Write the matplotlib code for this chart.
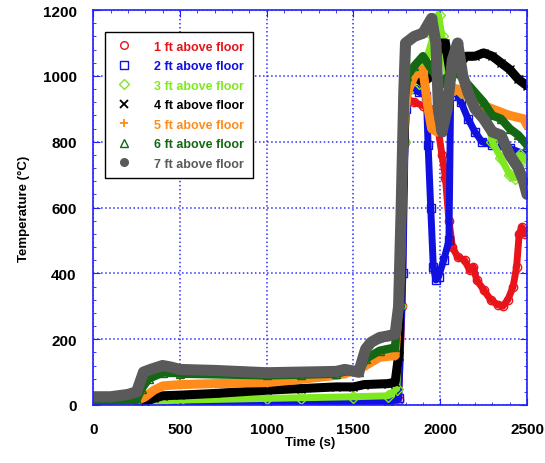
import matplotlib
matplotlib.use('Agg')
import matplotlib.pyplot as plt
from matplotlib.lines import Line2D
from matplotlib.ticker import MultipleLocator

plt.rcParams['font.family'] = ['Liberation Sans', 'DejaVu Sans']

# valeurs (temps en s, température en °C)
t1 = [0, 1000, 1700, 1760, 1780, 1795, 1810, 1850, 1900, 1940, 1970, 1990, 2010, 2030, 2050,
      2070, 2100, 2140, 2170, 2190, 2210, 2250, 2290, 2330, 2360, 2390, 2420, 2440, 2455,
      2470, 2490, 2500]
v1 = [3, 4, 5, 15, 300, 800, 930, 920, 910, 900, 870, 830, 760, 690, 560,
      480, 450, 440, 410, 420, 380, 350, 320, 305, 300, 320, 360, 420, 520,
      540, 520, 530]

t2 = [0, 1000, 1700, 1760, 1785, 1800, 1820, 1850, 1880, 1920, 1930, 1945, 1960, 1975,
      1990, 2020, 2050, 2060, 2080, 2120, 2160, 2200, 2240, 2300, 2400, 2500]
v2 = [5, 6, 8, 20, 400, 900, 980, 960, 950, 940, 790, 600, 420, 380,
      390, 440, 500, 940, 960, 920, 870, 830, 800, 790, 780, 760]

t3 = [0, 300, 400, 500, 1000, 1200, 1500, 1700, 1750, 1770, 1790, 1810, 1850, 1880, 1920,
      1960, 1990, 2010, 2040, 2080, 2120, 2170, 2230, 2270, 2300, 2350, 2400, 2430, 2460, 2500]
v3 = [5, 8, 12, 15, 20, 22, 25, 28, 50, 300, 800, 950, 1000, 980, 1050,
      1120, 1185, 1120, 1000, 960, 950, 940, 920, 880, 800, 750, 700, 690, 760, 740]

t4 = [0, 300, 350, 400, 500, 700, 1000, 1200, 1400, 1500, 1560, 1700, 1740, 1760, 1780,
      1800, 1850, 1900, 1950, 2000, 2030, 2060, 2100, 2150, 2200, 2250, 2300, 2350, 2400,
      2450, 2500]
v4 = [8, 10, 20, 28, 30, 35, 45, 50, 55, 55, 62, 65, 70, 150, 600,
      950, 1000, 980, 1000, 1100, 1100, 1000, 1030, 1060, 1060, 1070, 1060, 1040, 1020,
      990, 970]

t5 = [0, 250, 300, 350, 400, 500, 700, 1000, 1200, 1400, 1450, 1530, 1570, 1650, 1740, 1770,
      1790, 1810, 1850, 1900, 1930, 1950, 1980, 2020, 2060, 2100, 2150, 2200, 2300, 2400,
      2480, 2500]
v5 = [10, 12, 25, 45, 58, 62, 65, 68, 78, 90, 95, 110, 120, 145, 150, 400,
      850, 950, 1000, 1020, 900, 840, 830, 900, 950, 960, 940, 920, 900, 880,
      870, 850]

t6 = [0, 250, 280, 320, 400, 450, 500, 1000, 1200, 1400, 1480, 1530, 1570, 1650, 1740, 1770,
      1790, 1810, 1850, 1900, 1950, 2000, 2050, 2100, 2150, 2200, 2250, 2300, 2350, 2400,
      2450, 2500]
v6 = [12, 15, 50, 80, 98, 100, 95, 90, 92, 95, 105, 100, 140, 165, 175, 400,
      900, 1000, 1030, 1060, 1020, 980, 1000, 1010, 980, 950, 920, 880, 870, 840,
      820, 790]

t7 = [0, 100, 200, 250, 290, 330, 400, 450, 500, 700, 1000, 1200, 1400, 1450, 1530, 1570,
      1600, 1650, 1700, 1740, 1760, 1775, 1790, 1800, 1850, 1900, 1950, 1975, 1990, 2010,
      2040, 2070, 2100, 2130, 2160, 2200, 2250, 2300, 2350, 2400, 2450, 2480, 2500]
v7 = [25, 25, 32, 40, 100, 108, 120, 115, 108, 105, 98, 100, 102, 108, 100, 170,
      190, 205, 210, 215, 300, 600, 950, 1100, 1120, 1130, 1175, 1100, 900, 830,
      900, 1050, 1100, 1000, 950, 900, 870, 830, 820, 760, 720, 680, 640]

series = [
    (t1, v1, '#e8141a', 'o', 'none', '1 ft above floor'),
    (t2, v2, '#1010e0', 's', 'none', '2 ft above floor'),
    (t3, v3, '#80e820', 'D', 'none', '3 ft above floor'),
    (t4, v4, '#000000', 'x', None, '4 ft above floor'),
    (t5, v5, '#ff8c1a', '+', None, '5 ft above floor'),
    (t6, v6, '#146814', '^', 'none', '6 ft above floor'),
    (t7, v7, '#5a5a5a', 'o', None, '7 ft above floor'),
]
epaisseurs = [5, 5, 5, 6.5, 6.5, 6, 8]

fig = plt.figure(figsize=(5.45, 4.64), dpi=100)
ax = fig.add_axes([0.171, 0.125, 0.796, 0.851])

poignees = []
for (t, v, c, m, mfc, nom), lw in zip(series, epaisseurs):
    ax.plot(t, v, color=c, lw=lw, marker=m, ms=6, mfc=mfc if mfc else c, mec=c,
            solid_joinstyle='round', solid_capstyle='round')
    poignees.append(Line2D([], [], linestyle='none', marker=m, color=c,
                           mfc=mfc if mfc else c, mec=c, ms=5.5, mew=1.3 if m in 'x+' else 1))

ax.set_xlim(0, 2500)
ax.set_ylim(0, 1200)
ax.xaxis.set_major_locator(MultipleLocator(500))
ax.yaxis.set_major_locator(MultipleLocator(200))
ax.xaxis.set_minor_locator(MultipleLocator(100))
ax.yaxis.set_minor_locator(MultipleLocator(40))
ax.grid(True, which='major', color='#3030ff', linestyle=':', linewidth=1.1)
for s in ax.spines.values():
    s.set_color('#2020ff')
    s.set_linewidth(1.2)
ax.tick_params(which='both', direction='in', top=True, right=True, color='#2020ff')
ax.tick_params(which='major', length=5, pad=12, labelsize=11)
ax.tick_params(which='minor', length=2.5)
for lab in ax.get_xticklabels() + ax.get_yticklabels():
    lab.set_fontweight('bold')

ax.set_xlabel('Time (s)', fontsize=9.5, fontweight='bold', labelpad=0)
ax.set_ylabel('Temperature (°C)', fontsize=9.5, fontweight='bold', labelpad=9)

leg = ax.legend(poignees, [s[5] for s in series], loc='upper left',
                bbox_to_anchor=(0.028, 0.945), fancybox=False, edgecolor='black',
                framealpha=1, fontsize=9, handletextpad=1.6, borderpad=0.7,
                labelspacing=0.6, handlelength=1.6, borderaxespad=0)
leg.get_frame().set_linewidth(1.0)
for txt, s in zip(leg.get_texts(), series):
    txt.set_color(s[2])
    txt.set_fontweight('bold')

fig.savefig('out.png', dpi=100)
